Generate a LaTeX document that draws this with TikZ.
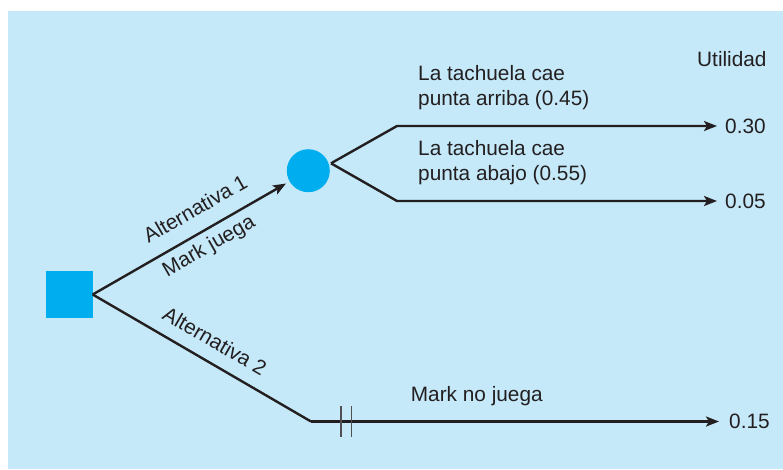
\documentclass[tikz,border=0pt]{standalone}
\usepackage{fontspec}
\setmainfont{Liberation Sans}
\usetikzlibrary{arrows.meta}
\definecolor{bgblue}{HTML}{C5E9F9}
\definecolor{nodecyan}{HTML}{00AEEF}
\definecolor{ink}{HTML}{231F20}
\definecolor{bargray}{HTML}{505050}
\begin{document}
\begin{tikzpicture}[x=1pt,y=-1pt,
  font=\fontsize{20.8}{25}\selectfont, text=ink,
  branch/.style={draw=ink, line width=2.4pt, line join=miter},
  arr/.style={-{Stealth[length=13pt,width=10pt,inset=3pt]}},
  lbl/.style={inner sep=0pt, anchor=base west, align=left},
  val/.style={anchor=west, inner ysep=0pt, inner xsep=8pt},
  decision/.style={fill=nodecyan, minimum size=47pt, inner sep=0pt},
  chance/.style={circle, fill=nodecyan, minimum size=43pt, inner sep=0pt},
  bar/.style={draw=bargray, line width=1.2pt}]
\useasboundingbox (0,0) rectangle (783,469);
\fill[bgblue] (8,11) rectangle (783,469);
\node[decision] (sq) at (69,294.5) {};
\node[chance] (ci) at (308.3,170.7) {};
\coordinate (fork) at (331,163.3);
\coordinate (ua) at (397,126);
\coordinate (la) at (397,201);
\coordinate (bc) at (311,421.5);
\node[val] (v1) at (717,126) {0.30};
\node[val] (v2) at (717,201) {0.05};
\node[val, inner xsep=10pt] (v3) at (719,421.5) {0.15};
\node[lbl] (ut) at (697,66) {Utilidad};
\draw[branch, arr, shorten >=4pt] (sq.east) -- (ci)
  node[pos=0.58, sloped, anchor=base, yshift=16pt] (a1) {Alternativa 1}
  node[pos=0.55, sloped, anchor=base, yshift=-22pt] (mj) {Mark juega};
\draw[branch] (sq.east) -- (bc)
  node[pos=0.51, sloped, anchor=base, yshift=14pt] (a2) {Alternativa 2};
\draw[branch, arr] (bc) -- (v3.west);
\draw[branch, arr] (fork) -- (ua) -- (v1.west);
\draw[branch, arr] (fork) -- (la) -- (v2.west);
\node[lbl] (t1) at (418,105.7) {La tachuela cae\\punta arriba (0.45)};
\node[lbl] (t2) at (418,180.7) {La tachuela cae\\punta abajo (0.55)};
\node[lbl] (mn) at (410.7,401.7) {Mark no juega};
\coordinate (b1t) at (341,406); \coordinate (b1b) at (341,437);
\coordinate (b2t) at (351.7,406); \coordinate (b2b) at (351.7,437);
\draw[bar] (b1t) -- (b1b);
\draw[bar] (b2t) -- (b2b);
\end{tikzpicture}
\end{document}
